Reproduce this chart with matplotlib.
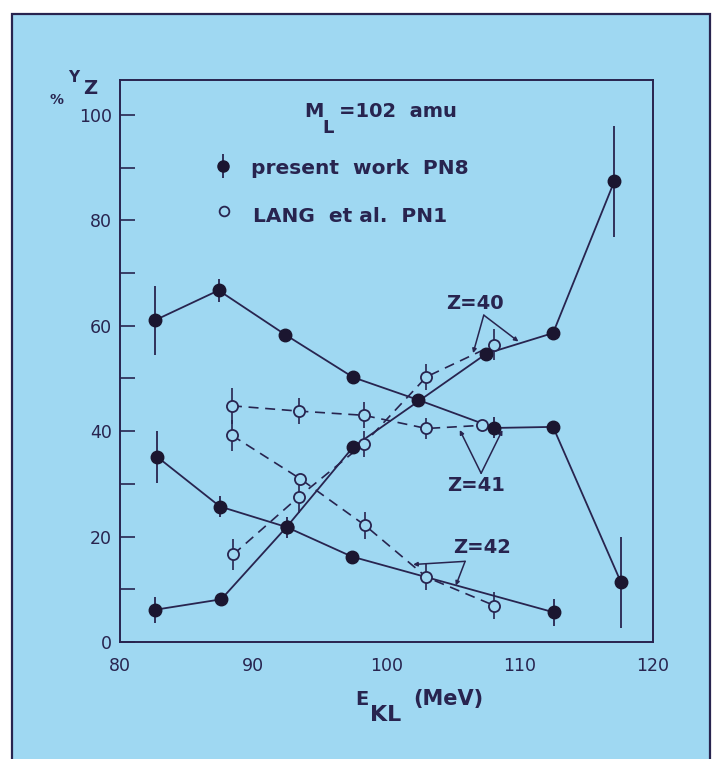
import matplotlib
matplotlib.use("Agg")
import matplotlib.pyplot as plt
from matplotlib.patches import Rectangle

# ── Data ──────────────────────────────────────────────────────────────────────
# present work PN8 (filled)
z40_x   = [82.6, 87.6, 92.5, 97.5, 107.5, 112.5, 117.1]
z40_y   = [6.1, 8.1, 21.8, 37.0, 54.7, 58.6, 87.4]
z40_err = [2.5, 0.0, 2.0, 0.0, 0.0, 0.0, 10.5]

z41_x   = [82.6, 87.4, 92.4, 97.5, 102.4, 108.1, 112.5, 117.6]
z41_y   = [61.0, 66.7, 58.3, 50.2, 45.9, 40.6, 40.8, 11.3]
z41_err = [6.5, 2.2, 0.0, 0.0, 0.0, 2.0, 0.0, 8.6]

z42_x   = [82.8, 87.5, 92.5, 97.4, 112.6]
z42_y   = [35.1, 25.7, 21.8, 16.2, 5.6]
z42_err = [5.0, 2.0, 0.0, 0.0, 2.5]

# LANG et al. PN1 (open)
lz40_x   = [88.5, 93.4, 98.3, 103.0, 108.1]
lz40_y   = [16.6, 27.5, 37.6, 50.3, 56.4]
lz40_err = [3.0, 3.0, 2.5, 2.5, 3.0]

lz41_x   = [88.4, 93.4, 98.3, 103.0, 107.2]
lz41_y   = [44.8, 43.8, 43.0, 40.5, 41.1]
lz41_err = [3.4, 2.5, 2.5, 2.0, 0.0]

lz42_x   = [88.4, 93.5, 98.4, 103.0, 108.1]
lz42_y   = [39.2, 31.0, 22.1, 12.3, 6.9]
lz42_err = [3.0, 0.0, 2.5, 2.5, 2.5]

x_ticks  = [80, 90, 100, 110, 120]
y_ticks  = [0, 20, 40, 60, 80, 100]

# ── Style ─────────────────────────────────────────────────────────────────────
BG    = "#9fd8f2"
INK   = "#28244f"
DOT   = "#1b1630"
FONT  = "DejaVu Sans"

plt.rcParams.update({
    "font.family": FONT,
    "text.color": INK,
    "axes.edgecolor": INK,
    "xtick.color": INK,
    "ytick.color": INK,
})

fig = plt.figure(figsize=(7.17, 7.59), dpi=100, facecolor="white")

# outer frame (open at the bottom, like the cut scan)
fig.patches.append(Rectangle((12 / 717, -0.05), (710 - 12) / 717, (759 - 14) / 759 + 0.05,
                             transform=fig.transFigure, facecolor=BG,
                             edgecolor=INK, linewidth=1.6, zorder=-10))

ax = fig.add_axes([120 / 717, (759 - 642) / 759, (653 - 120) / 717, (642 - 80) / 759])
ax.set_zorder(5)
ax.set_facecolor("none")
ax.set_xlim(80, 120)
ax.set_ylim(0, 106.6)
for s in ax.spines.values():
    s.set_linewidth(1.4)

ax.set_xticks([90, 100, 110], minor=True)
ax.set_xticks(x_ticks)
ax.set_yticks(y_ticks)
ax.set_yticks(range(10, 110, 20), minor=True)
ax.tick_params(axis="both", which="both", direction="in", width=1.2,
               labelsize=12.5, pad=6)
ax.tick_params(axis="x", which="major", length=0, pad=11)
ax.tick_params(axis="x", which="minor", length=10)
ax.tick_params(axis="y", which="both", length=11)

# ── Present work (solid, filled) ─────────────────────────────────────────────
for xs, ys, es in [(z40_x, z40_y, z40_err), (z41_x, z41_y, z41_err),
                   (z42_x, z42_y, z42_err)]:
    ax.plot(xs, ys, color=INK, linewidth=1.3, zorder=2)
    ax.errorbar(xs, ys, yerr=es, fmt="o", color=DOT, ecolor=INK,
                markersize=9, elinewidth=1.3, capsize=0, zorder=4)

# ── LANG et al. (dashed, open) ───────────────────────────────────────────────
for xs, ys, es in [(lz40_x, lz40_y, lz40_err), (lz41_x, lz41_y, lz41_err),
                   (lz42_x, lz42_y, lz42_err)]:
    ax.plot(xs, ys, color=INK, linewidth=1.2, dashes=(6, 4), zorder=2)
    ax.errorbar(xs, ys, yerr=es, fmt="o", mfc=BG, mec=INK, mew=1.3,
                ecolor=INK, markersize=8, elinewidth=1.2, capsize=0, zorder=3)

# ── Z labels with arrows ─────────────────────────────────────────────────────
arrow = dict(arrowstyle="-|>", color=INK, lw=1.1, mutation_scale=6,
             shrinkA=0, shrinkB=0)
ax.text(106.6, 64.2, "Z=40", ha="center", va="center", fontsize=14, fontweight="bold")
ax.annotate("", xy=(106.5, 54.8), xytext=(107.3, 62.0), arrowprops=arrow)
ax.annotate("", xy=(109.9, 57.0), xytext=(107.3, 62.0), arrowprops=arrow)

ax.text(106.7, 29.6, "Z=41", ha="center", va="center", fontsize=14, fontweight="bold")
ax.annotate("", xy=(105.5, 40.2), xytext=(107.1, 32.0), arrowprops=arrow)
ax.annotate("", xy=(108.7, 40.2), xytext=(107.1, 32.0), arrowprops=arrow)

ax.text(107.2, 17.9, "Z=42", ha="center", va="center", fontsize=14, fontweight="bold")
ax.annotate("", xy=(102.0, 14.7), xytext=(105.9, 15.3), arrowprops=arrow)
ax.annotate("", xy=(105.2, 10.7), xytext=(105.9, 15.3), arrowprops=arrow)

# ── Legend block ──────────────────────────────────────────────────────────────
ax.text(93.8, 99.6, "M", fontsize=14, fontweight="bold", va="baseline")
ax.text(95.2, 96.6, "L", fontsize=13, fontweight="bold", va="baseline")
ax.text(96.4, 99.6, "=102  amu", fontsize=14, fontweight="bold", va="baseline")

ax.errorbar([87.7], [90.3], yerr=[2.2], fmt="o", color=DOT, ecolor=INK,
            markersize=8, elinewidth=1.3, capsize=0)
ax.text(89.8, 88.8, "present  work  PN8", fontsize=14.5, fontweight="bold", va="baseline")
ax.plot([87.8], [81.8], "o", mfc=BG, mec=INK, mew=1.3, markersize=7)
ax.text(90.0, 79.6, "LANG  et al.  PN1", fontsize=14.5, fontweight="bold", va="baseline")

# ── Axis labels (figure pixels) ──────────────────────────────────────────────
def px(x, y):
    return x / 717, 1 - y / 759

fig.text(*px(50, 104), "%", fontsize=10, fontweight="bold", va="baseline")
fig.text(*px(68, 82), "Y", fontsize=11, fontweight="bold", va="baseline")
fig.text(*px(83, 94), "Z", fontsize=14, fontweight="bold", va="baseline")

fig.text(*px(355, 705), "E", fontsize=14, fontweight="bold", va="baseline")
fig.text(*px(370, 721), "KL", fontsize=16, fontweight="bold", va="baseline")
fig.text(*px(413, 705), "(MeV)", fontsize=15, fontweight="bold", va="baseline")

fig.savefig("out.png", dpi=100, facecolor="white")
